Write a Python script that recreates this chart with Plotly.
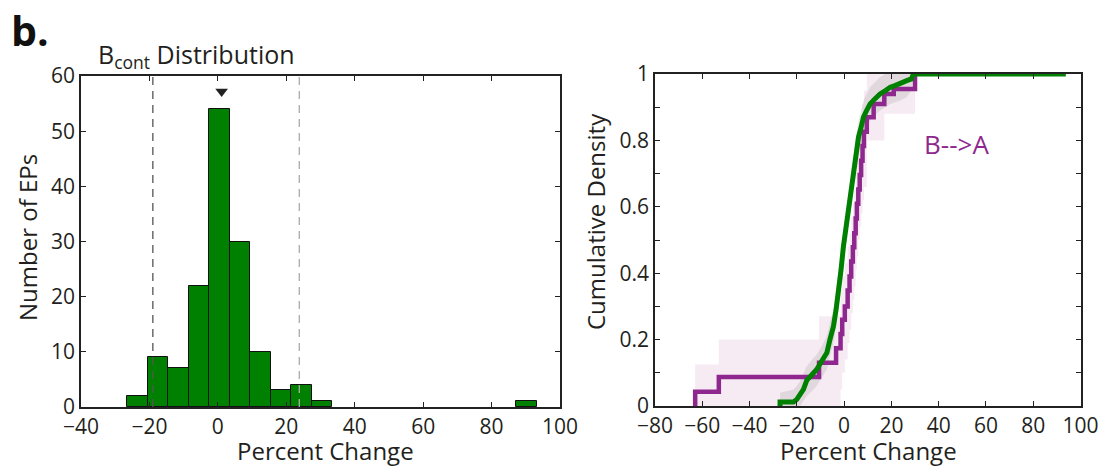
import plotly.graph_objects as go

# ---------------- data ----------------
# Left: histogram of B_cont distribution (percent change)
bin_centers = [-23.46, -17.48, -11.50, -5.52, 0.46, 6.44, 12.42, 18.40, 24.38, 30.36, 90.16]
bin_counts = [2, 9, 7, 22, 54, 30, 10, 3, 4, 1, 1]
bin_width = 5.98
ci_lower = -19.0
ci_upper = 23.8
median_marker_x = [1.1]
median_marker_y = [57.2]

# Right: cumulative density (green = control, purple = B-->A)
green_x = [-27.1, -27.1, -21.4, -20.0, -18.6, -17.2, -15.8, -13.5, -11.6, -9.5, -7.3, -6.0,
           -4.5, -3.4, -2.4, -1.3, -0.3, 0.8, 1.8, 2.9, 3.9, 5.0, 6.1, 7.2, 8.2, 9.5, 11.0,
           13.0, 15.2, 17.5, 19.5, 21.5, 23.7, 26.5, 28.5, 29.3, 93.8]
green_y = [0.0, 0.012, 0.012, 0.02, 0.035, 0.05, 0.077, 0.095, 0.11, 0.135, 0.16, 0.2,
           0.24, 0.29, 0.34, 0.41, 0.48, 0.54, 0.59, 0.65, 0.71, 0.76, 0.81, 0.84, 0.87, 0.89,
           0.91, 0.925, 0.94, 0.95, 0.96, 0.965, 0.97, 0.98, 0.985, 1.0, 1.0]
gray_upper = [0.0, 0.04, 0.05, 0.06, 0.075, 0.095, 0.12, 0.14, 0.155, 0.18, 0.21, 0.25,
              0.29, 0.34, 0.39, 0.46, 0.53, 0.59, 0.64, 0.7, 0.76, 0.81, 0.86, 0.89, 0.92,
              0.94, 0.96, 0.975, 0.99, 1.0, 1.0, 1.0, 1.0, 1.0, 1.0, 1.0, 1.0]
gray_lower = [0.0, 0.0, 0.0, 0.0, 0.0, 0.015, 0.03, 0.045, 0.06, 0.085, 0.11, 0.15,
              0.19, 0.24, 0.29, 0.36, 0.43, 0.49, 0.54, 0.6, 0.66, 0.71, 0.76, 0.79, 0.82,
              0.84, 0.86, 0.875, 0.89, 0.9, 0.91, 0.915, 0.92, 0.93, 0.95, 1.0, 1.0]

purple_x = [-63.0, -53.0, -10.6, -3.4, -1.5, -0.8, 0.3, 1.5, 2.3, 3.0, 3.7, 4.3, 4.9, 5.4,
            6.0, 6.6, 7.2, 7.8, 8.4, 9.6, 12.5, 17.0, 21.0, 30.0]
purple_y = [0.043, 0.087, 0.13, 0.174, 0.217, 0.26, 0.30, 0.348, 0.39, 0.435, 0.478, 0.52,
            0.565, 0.609, 0.652, 0.696, 0.739, 0.783, 0.826, 0.87, 0.91, 0.94, 0.955, 1.0]
pink_upper = [0.125, 0.2, 0.27, 0.27, 0.35, 0.39, 0.43, 0.48, 0.52, 0.57, 0.61, 0.65,
              0.7, 0.74, 0.79, 0.83, 0.87, 0.91, 0.95, 1.0, 1.0, 1.0, 1.0, 1.0]
pink_lower = [0.0, 0.0, 0.0, 0.0, 0.05, 0.1, 0.14, 0.19, 0.23, 0.28, 0.32, 0.36,
              0.41, 0.45, 0.5, 0.54, 0.58, 0.62, 0.66, 0.8, 0.8, 0.88, 0.88, 1.0]

left_xticks = [-40, -20, 0, 20, 40, 60, 80, 100]
left_yticks = [0, 10, 20, 30, 40, 50, 60]
right_xticks = [-80, -60, -40, -20, 0, 20, 40, 60, 80, 100]
right_yticks = [0, 0.1, 0.2, 0.3, 0.4, 0.5, 0.6, 0.7, 0.8, 0.9, 1.0]
right_yticktext = ["0", "", "0.2", "", "0.4", "", "0.6", "", "0.8", "", "1"]

# ---------------- figure ----------------
W, H = 1099, 470
FONT = "Open Sans"
TXT = "#231f20"
GREEN = "#008000"
PURPLE = "#8e278e"

def px(x):
    return x / W

def py(y):
    return 1 - y / H

fig = go.Figure()

# histogram bars
fig.add_trace(go.Bar(
    x=bin_centers, y=bin_counts, width=bin_width,
    marker=dict(color=GREEN, line=dict(color="#111", width=1)),
    xaxis="x", yaxis="y", showlegend=False, hoverinfo="x+y"))

# median marker
fig.add_trace(go.Scatter(
    x=median_marker_x, y=median_marker_y, mode="markers",
    marker=dict(symbol="triangle-down", size=11, color="#222"),
    xaxis="x", yaxis="y", showlegend=False))

# pink band (B-->A)
fig.add_trace(go.Scatter(
    x=purple_x, y=pink_lower, mode="lines", line=dict(width=0, shape="hv"),
    xaxis="x2", yaxis="y2", showlegend=False, hoverinfo="skip"))
fig.add_trace(go.Scatter(
    x=purple_x, y=pink_upper, mode="lines", line=dict(width=0, shape="hv"),
    fill="tonexty", fillcolor="rgba(170,60,130,0.10)",
    xaxis="x2", yaxis="y2", showlegend=False, hoverinfo="skip"))

# gray band (control)
fig.add_trace(go.Scatter(
    x=green_x, y=gray_lower, mode="lines", line=dict(width=0),
    xaxis="x2", yaxis="y2", showlegend=False, hoverinfo="skip"))
fig.add_trace(go.Scatter(
    x=green_x, y=gray_upper, mode="lines", line=dict(width=0),
    fill="tonexty", fillcolor="rgba(150,150,150,0.22)",
    xaxis="x2", yaxis="y2", showlegend=False, hoverinfo="skip"))

# purple ECDF
fig.add_trace(go.Scatter(
    x=[purple_x[0]] + purple_x, y=[0.0] + purple_y, mode="lines",
    line=dict(color=PURPLE, width=4.5, shape="hv"),
    xaxis="x2", yaxis="y2", showlegend=False))

# green ECDF
fig.add_trace(go.Scatter(
    x=green_x, y=green_y, mode="lines",
    line=dict(color=GREEN, width=5),
    xaxis="x2", yaxis="y2", showlegend=False))

axis_common = dict(
    showline=True, linecolor="#222", linewidth=1.5, mirror="ticks",
    ticks="inside", ticklen=5, tickwidth=1, tickcolor="#222",
    showgrid=False, zeroline=False, automargin=False,
    tickfont=dict(family=FONT, size=21, color=TXT),
)

fig.update_layout(
    width=W, height=H,
    margin=dict(l=0, r=0, t=0, b=0),
    paper_bgcolor="white", plot_bgcolor="white",
    bargap=0,
    xaxis=dict(domain=[px(81), px(560)], range=[-40, 100], tickvals=left_xticks,
               anchor="y", **axis_common),
    yaxis=dict(domain=[py(407), py(76)], range=[0, 60], tickvals=left_yticks,
               anchor="x", **axis_common),
    xaxis2=dict(domain=[px(655), px(1080.5)], range=[-80, 100], tickvals=right_xticks,
                anchor="y2", **axis_common),
    yaxis2=dict(domain=[py(406), py(74)], range=[0, 1], tickvals=right_yticks,
                ticktext=right_yticktext, anchor="x2", **axis_common),
    shapes=[
        dict(type="line", xref="x", yref="y", x0=ci_lower, x1=ci_lower, y0=0, y1=60,
             line=dict(color="#555", width=1.3, dash="8px,6px")),
        dict(type="line", xref="x", yref="y", x0=ci_upper, x1=ci_upper, y0=0, y1=60,
             line=dict(color="#aaa", width=1.3, dash="8px,6px")),
    ],
    annotations=[
        dict(text="<b>b.</b>", x=px(9), y=py(0), xref="paper", yref="paper",
             xanchor="left", yanchor="top", showarrow=False,
             font=dict(family=FONT, size=41, color="#111")),
        dict(text="B<sub>cont</sub> Distribution", x=px(96), y=py(56), xref="paper", yref="paper",
             xanchor="left", yanchor="middle", showarrow=False,
             font=dict(family=FONT, size=25, color=TXT)),
        dict(text="Number of EPs", x=px(28), y=py(238), xref="paper", yref="paper",
             xanchor="center", yanchor="middle", textangle=-90, showarrow=False,
             font=dict(family=FONT, size=24, color=TXT)),
        dict(text="Percent Change", x=px(325), y=py(450), xref="paper", yref="paper",
             xanchor="center", yanchor="middle", showarrow=False,
             font=dict(family=FONT, size=24, color=TXT)),
        dict(text="Cumulative Density", x=px(595), y=py(222), xref="paper", yref="paper",
             xanchor="center", yanchor="middle", textangle=-90, showarrow=False,
             font=dict(family=FONT, size=24, color=TXT)),
        dict(text="Percent Change", x=px(868), y=py(450), xref="paper", yref="paper",
             xanchor="center", yanchor="middle", showarrow=False,
             font=dict(family=FONT, size=24, color=TXT)),
        dict(text="B-->A", x=47.4, y=0.79, xref="x2", yref="y2",
             xanchor="center", yanchor="middle", showarrow=False,
             font=dict(family=FONT, size=26, color=PURPLE)),
    ],
)

fig.write_html("out.html",
               config={"displayModeBar": False},
               post_script="document.body.style.margin='0px';document.body.style.overflow='hidden';")
